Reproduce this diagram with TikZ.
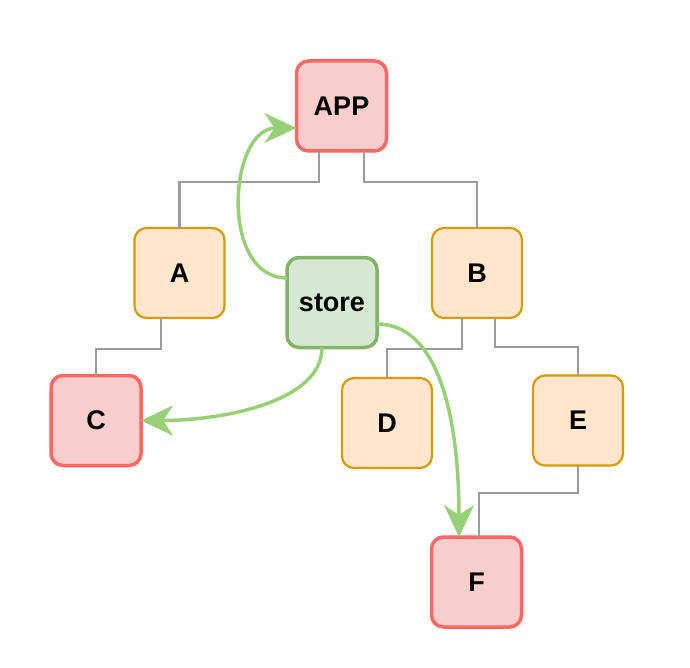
\documentclass[tikz,border=0pt]{standalone}
\usepackage{fontspec}
\setmainfont{Liberation Sans}
\usetikzlibrary{arrows.meta,calc}
\definecolor{redfill}{HTML}{F8CECC}
\definecolor{redline}{HTML}{FF6666}
\definecolor{grnfill}{HTML}{D5E8D4}
\definecolor{grnline}{HTML}{82B366}
\definecolor{orafill}{HTML}{FFE6CC}
\definecolor{oraline}{HTML}{D79B00}
\definecolor{wire}{HTML}{9C9C9C}
\definecolor{flow}{HTML}{97D077}
\tikzset{
  box/.style={rectangle, rounded corners=12pt, minimum width=90pt, minimum height=90pt,
    inner sep=0pt, outer sep=0pt, font=\fontsize{27}{30}\selectfont\bfseries},
  redbox/.style={box, fill=redfill, draw=redline, line width=3.5pt},
  grnbox/.style={box, fill=grnfill, draw=grnline, line width=3.5pt},
  orabox/.style={box, fill=orafill, draw=oraline, line width=2.2pt},
  tree/.style={draw=wire, line width=2.4pt},
  flowarrow/.style={draw=flow, line width=3.5pt, -{Stealth[length=32pt,width=30pt,inset=10pt]}},
}
\begin{document}
\begin{tikzpicture}[x=1pt,y=-1pt]
\useasboundingbox (0,0) rectangle (690,668);
\node[redbox] (APP) at (341.5,106) {APP};
\node[orabox] (A) at (179.5,273) {A};
\node[orabox] (B) at (477,273) {B};
\node[grnbox] (store) at (332,302.5) {store};
\node[redbox] (C) at (96,420.5) {C};
\node[orabox] (D) at (387,423) {D};
\node[orabox] (E) at (578,420.5) {E};
\node[redbox] (F) at (476.5,582) {F};

\draw[tree] ([xshift=-22.5pt]APP.south) -- ++(0,31) -| (A.north);
\draw[tree] ([xshift=22.5pt]APP.south) -- ++(0,31) -| (B.north);
\draw[tree] ([xshift=-18.5pt]A.south) -- ++(0,31) -| (C.north);
\draw[tree] ([xshift=-15pt]B.south) -- ++(0,31) -| (D.north);
\draw[tree] ([xshift=18pt]B.south) -- ++(0,29) -| (E.north);
\draw[tree] (E.south) -- ++(0,27.5) -| ([xshift=2.5pt]F.north);

\draw[flowarrow] ([yshift=24.5pt]store.west) .. controls +(-68,0) and +(-68,0) .. ([yshift=-22pt]APP.west);
\draw[flowarrow] ([xshift=-10pt]store.south) .. controls +(0,55) and +(80,0) .. (C.east);
\draw[flowarrow] ([yshift=-21.5pt]store.east) .. controls +(65,0) and +(0,-110) .. ([xshift=-17.5pt]F.north);
\end{tikzpicture}
\end{document}
